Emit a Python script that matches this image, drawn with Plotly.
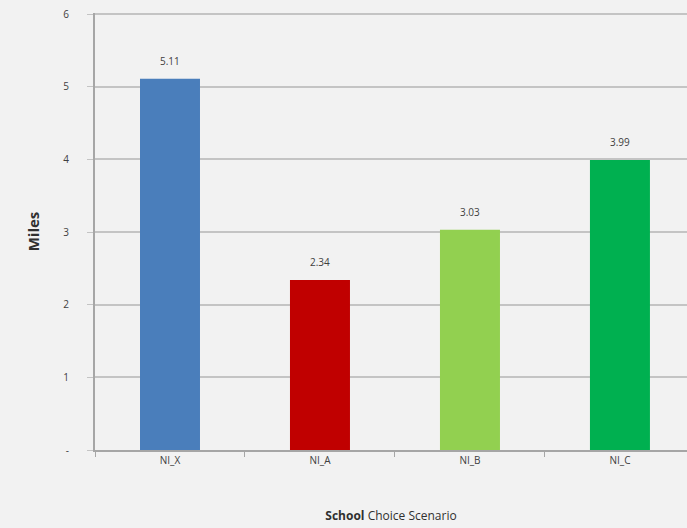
import plotly.graph_objects as go

scenarios = ["NI_X", "NI_A", "NI_B", "NI_C"]
miles = [5.11, 2.34, 3.03, 3.99]
bar_colors = ["#4a7ebb", "#c00000", "#92d050", "#00b050"]
y_ticks = [0, 1, 2, 3, 4, 5, 6]
y_tick_text = ["-", "1", "2", "3", "4", "5", "6"]

text_color = "#404040"
font_family = "Open Sans, Liberation Sans, sans-serif"

fig = go.Figure(
    go.Bar(
        x=scenarios,
        y=miles,
        marker=dict(color=bar_colors, line=dict(width=0)),
        width=0.4,
        hoverinfo="x+y",
    )
)

# value labels sitting a little above each bar
for cat, val in zip(scenarios, miles):
    fig.add_annotation(
        x=cat,
        y=val,
        text=f"{val:.2f}",
        showarrow=False,
        yanchor="bottom",
        yshift=9,
        font=dict(size=10, color=text_color, family=font_family),
    )

fig.update_layout(
    width=687,
    height=528,
    margin=dict(l=95, r=0, t=13, b=78),
    paper_bgcolor="#f2f2f2",
    plot_bgcolor="#f2f2f2",
    showlegend=False,
    font=dict(family=font_family, color=text_color),
)

fig.update_xaxes(
    range=[-0.5, 3.447],
    showgrid=False,
    showline=True,
    linecolor="#a6a6a6",
    linewidth=2,
    ticks="outside",
    tickson="boundaries",
    ticklen=5,
    tickcolor="#a6a6a6",
    tickfont=dict(size=10, color=text_color),
    title=dict(
        text="<b>School</b> Choice Scenario",
        font=dict(size=12, color="#303030"),
        standoff=46,
    ),
)

fig.update_yaxes(
    range=[0, 6.015],
    tickvals=y_ticks,
    ticktext=y_tick_text,
    showgrid=True,
    gridcolor="#c4c4c4",
    gridwidth=2,
    showline=True,
    linecolor="#a6a6a6",
    linewidth=2,
    ticks="outside",
    ticklen=6,
    tickcolor="#c4c4c4",
    ticklabelstandoff=16,
    tickfont=dict(size=10, color=text_color),
    zeroline=False,
    title=dict(
        text="<b>Miles</b>",
        font=dict(size=15, color="#303030"),
        standoff=20,
    ),
)

fig.write_html("out.html")
